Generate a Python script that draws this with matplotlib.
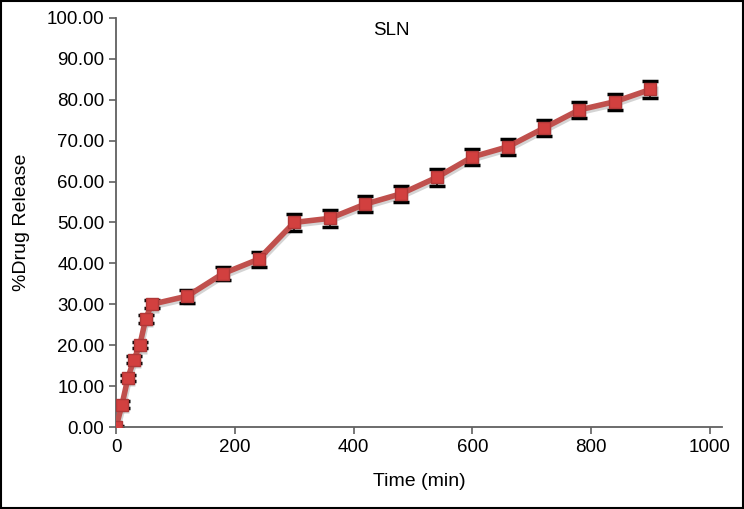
import matplotlib
matplotlib.use("Agg")
import matplotlib.pyplot as plt
from matplotlib.patches import Rectangle

plt.rcParams['font.family'] = ['Liberation Sans', 'DejaVu Sans']

time_min = [0, 10, 20, 30, 40, 50, 60, 120, 180, 240, 300, 360, 420, 480,
            540, 600, 660, 720, 780, 840, 900]
release = [0.0, 5.5, 12.0, 16.5, 20.0, 26.5, 30.0, 32.0, 37.5, 41.0, 50.0,
           51.0, 54.5, 57.0, 61.0, 66.0, 68.5, 73.0, 77.5, 79.5, 82.5]
err = [0.3, 0.8, 0.8, 0.8, 0.8, 1.0, 1.0, 1.6, 1.6, 1.8, 2.0, 2.0, 2.0, 2.0,
       2.0, 2.0, 2.0, 2.0, 2.0, 2.0, 2.0]

yticks = [0, 10, 20, 30, 40, 50, 60, 70, 80, 90, 100]
xticks = [0, 200, 400, 600, 800, 1000]

fig = plt.figure(figsize=(7.44, 5.09), dpi=100)
ax = fig.add_axes([0.156, 0.161, 0.814, 0.804])

# soft grey shadow under the line
ax.plot([t + 2 for t in time_min], [r - 0.6 for r in release], color='#b8b8b8',
        lw=4, alpha=0.6, zorder=1, marker='s', ms=9, mec='none', mfc='#b0b0b0')
ax.errorbar(time_min, release, yerr=err, fmt='none', ecolor='black',
            elinewidth=1.2, capsize=5.5, capthick=2.5, zorder=2)
ax.plot(time_min, release, color='#c0504d', lw=4, marker='s', ms=9,
        mfc='#d2403f', mec='#b03838', zorder=3)

ax.set_xlim(0, 1020)
ax.set_ylim(0, 100)
ax.set_xticks(xticks)
ax.set_yticks(yticks)
ax.set_yticklabels(['%.2f' % v for v in yticks])
ax.tick_params(labelsize=13.5, color='#606060', length=5, width=1.2)

for s in ['top', 'right']:
    ax.spines[s].set_visible(False)
for s in ['left', 'bottom']:
    ax.spines[s].set_color('#606060')
    ax.spines[s].set_linewidth(1.3)

ax.set_xlabel('Time (min)', fontsize=14, labelpad=12)
ax.set_ylabel('%Drug Release', fontsize=14, labelpad=12)
ax.text(0.455, 0.99, 'SLN', transform=ax.transAxes, ha='center', va='top', fontsize=13.5)

fig.patches.append(Rectangle((0.001, 0.001), 0.997, 0.997, transform=fig.transFigure,
                             fill=False, edgecolor='black', lw=1.5))

fig.savefig('out.png', dpi=100)
